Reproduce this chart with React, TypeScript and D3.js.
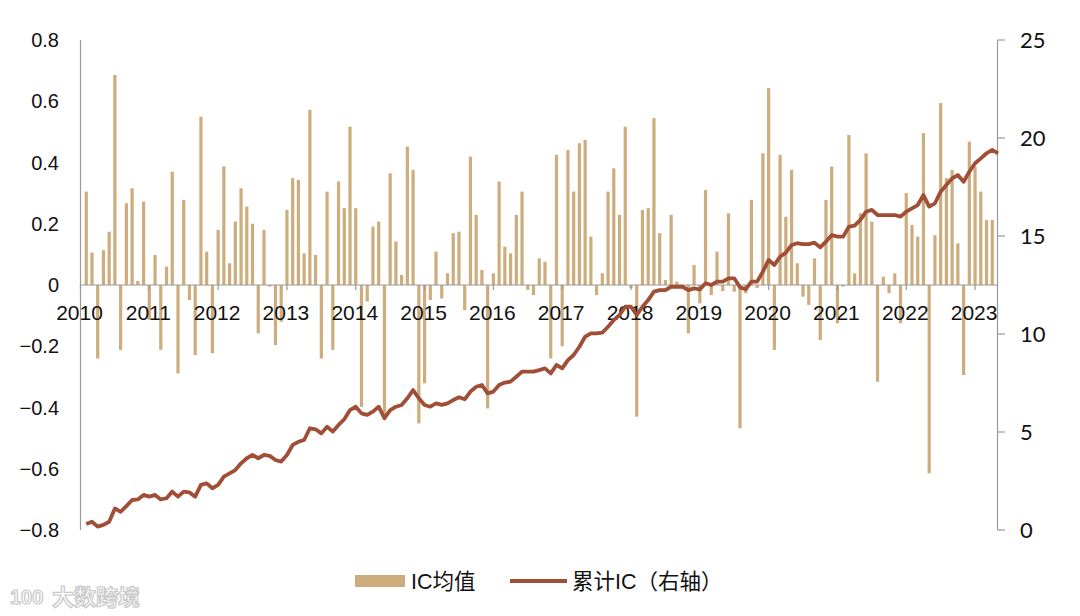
import React from "react";
import * as d3 from "d3";

// IC monthly mean, Feb 2010 .. Apr 2023 (month index 1..159, Jan 2010 = 0)
const icValues: number[] = [
  0.305, 0.106, -0.24, 0.114, 0.174, 0.686, -0.212, 0.267, 0.316, 0.013, 0.272,
  -0.114, 0.098, -0.212, 0.06, 0.37, -0.289, 0.278, -0.049, -0.229, 0.55, 0.109, -0.223,
  0.18, 0.387, 0.071, 0.207, 0.316, 0.256, 0.2, -0.158, 0.18, -0.005, -0.196, -0.12,
  0.245, 0.349, 0.343, 0.103, 0.572, 0.098, -0.24, 0.305, -0.212, 0.338, 0.251, 0.517,
  0.251, -0.398, -0.054, 0.191, 0.207, -0.441, 0.365, 0.142, 0.033, 0.452, 0.376, -0.452,
  -0.321, -0.049, 0.109, -0.044, 0.038, 0.169, 0.174, -0.082, 0.419, 0.229, 0.049, -0.403,
  0.038, 0.338, 0.125, 0.103, 0.229, 0.305, -0.016, -0.033, 0.087, 0.076, -0.24, 0.425,
  -0.2, 0.441, 0.305, 0.463, 0.474, 0.158, -0.033, 0.038, 0.305, 0.381, 0.229, 0.517,
  -0.01, -0.43, 0.245, 0.251, 0.545, 0.169, 0.016, 0.229, 0.011, -0.01, -0.158, 0.065,
  -0.06, 0.31, -0.033, 0.109, -0.02, 0.234, -0.022, -0.468, -0.027, 0.278, -0.01, 0.43,
  0.643, -0.212, 0.425, 0.223, 0.376, 0.071, -0.038, -0.065, 0.087, -0.18, 0.278, 0.387,
  -0.125, -0.005, 0.49, 0.038, 0.234, 0.43, 0.207, -0.316, 0.027, -0.027, 0.038, -0.125,
  0.3, 0.196, 0.158, 0.496, -0.615, 0.163, 0.594, 0.349, 0.376, 0.136, -0.294, 0.468,
  0.387, 0.305, 0.212, 0.212,
];

// Cumulative IC (right axis), Feb 2010 .. May 2023 (month index 1..160)
const cumIC: number[] = [
  0.31, 0.42, 0.17, 0.26, 0.42, 1.1, 0.93, 1.22, 1.53, 1.56, 1.79, 1.7, 1.79, 1.56, 1.62,
  1.96, 1.7, 1.96, 1.92, 1.7, 2.3, 2.38, 2.13, 2.3, 2.72, 2.89, 3.06, 3.4, 3.66, 3.83,
  3.66, 3.83, 3.78, 3.57, 3.49, 3.83, 4.34, 4.5, 4.59, 5.19,
  5.14, 4.93, 5.27, 5.02, 5.36, 5.65, 6.12, 6.29, 5.95, 5.87, 6.04, 6.29, 5.7, 6.12, 6.29,
  6.38, 6.72, 7.14, 6.72, 6.38, 6.29, 6.46, 6.38, 6.46, 6.63, 6.77, 6.67, 7.06, 7.31, 7.4,
  6.97, 7.06, 7.4, 7.52, 7.57, 7.82, 8.08, 8.08, 8.08, 8.16, 8.25,
  7.99, 8.42, 8.25, 8.67, 8.93, 9.35, 9.86, 10.03, 10.03, 10.07, 10.37, 10.71, 10.97,
  11.39, 11.39, 10.97, 11.39, 11.73, 12.16, 12.24, 12.24, 12.41, 12.41, 12.41, 12.24,
  12.33, 12.27, 12.59, 12.5, 12.67, 12.67, 12.84, 12.84, 12.38, 12.28, 12.67, 12.67,
  13.18, 13.78, 13.52, 13.95, 14.15,
  14.54, 14.63, 14.59, 14.59, 14.66, 14.42, 14.71, 15.05, 14.97, 14.97, 15.48, 15.53,
  15.82, 16.24, 16.33, 16.07, 16.07, 16.07, 16.07, 15.99, 16.24, 16.41, 16.58, 17.09,
  16.5, 16.67, 17.26, 17.6, 17.94, 18.11, 17.77, 18.28, 18.71, 18.96, 19.22, 19.39, 19.22,
];

const yearLabels: string[] = [
  "2010", "2011", "2012", "2013", "2014", "2015", "2016",
  "2017", "2018", "2019", "2020", "2021", "2022", "2023",
];
const leftTicks: number[] = [0.8, 0.6, 0.4, 0.2, 0, -0.2, -0.4, -0.6, -0.8];
const rightTicks: number[] = [0, 5, 10, 15, 20, 25];
const legendLabels: string[] = ["IC均值", "累计IC（右轴）"];

const BAR = "#CDAD7D";
const LINE = "#A04E36";
const AXIS = "#9a9a9a";
const FONT = "'Liberation Sans', Arial, 'Noto Sans CJK SC', sans-serif";

export default function App() {
  const W = 1080, H = 616;
  const x = d3.scaleLinear().domain([0, 160]).range([80.5, 998]);
  const yL = d3.scaleLinear().domain([-0.8, 0.8]).range([530, 40]);
  const yR = d3.scaleLinear().domain([0, 25]).range([530, 40]);
  const barW = 3.2;

  const lineGen = d3
    .line<number>()
    .x((_, i) => x(i + 1))
    .y((d) => yR(d))
    .curve(d3.curveLinear);

  const y0 = yL(0);

  return (
    <div style={{ position: "absolute", left: 0, top: 0 }}>
      <svg width={W} height={H} style={{ display: "block", background: "#fff" }}>
        {/* bars */}
        <g>
          {icValues.map((v, i) => {
            const cx = x(i + 1);
            const top = Math.min(yL(v), y0);
            const h = Math.abs(yL(v) - y0);
            return <rect key={i} x={cx - barW / 2} y={top} width={barW} height={h} fill={BAR} />;
          })}
        </g>

        {/* left axis */}
        <line x1={80.5} x2={80.5} y1={yL(0.8)} y2={yL(-0.8)} stroke={AXIS} strokeWidth={1.2} />
        {leftTicks.map((t) => (
          <text
            key={t}
            x={59}
            y={yL(t)}
            dy="0.35em"
            textAnchor="end"
            fontFamily={FONT}
            fontSize={20}
            fill="#111"
          >
            {t === 0 ? "0" : d3.format(".1f")(t)}
          </text>
        ))}

        {/* right axis */}
        <line x1={997.5} x2={997.5} y1={yR(25)} y2={yR(0)} stroke={AXIS} strokeWidth={1.2} />
        {rightTicks.map((t) => (
          <g key={t}>
            <line x1={997.5} x2={1005} y1={yR(t)} y2={yR(t)} stroke={AXIS} strokeWidth={1.2} />
            <text
              x={1020}
              y={yR(t)}
              dy="0.36em"
              fontFamily="Lato, 'Open Sans', sans-serif"
              fontSize={22}
              fill="#111"
            >
              {t}
            </text>
          </g>
        ))}

        {/* x axis at zero */}
        <line x1={80.5} x2={998} y1={y0} y2={y0} stroke={AXIS} strokeWidth={1.2} />
        {yearLabels.map((lab, k) => {
          const xx = x(k * 12);
          return (
            <g key={lab}>
              <line x1={xx} x2={xx} y1={y0} y2={y0 + 5} stroke={AXIS} strokeWidth={1.2} />
              <text
                x={xx - 1}
                y={y0 + 35}
                textAnchor="middle"
                fontFamily={FONT}
                fontSize={21}
                fill="#111"
              >
                {lab}
              </text>
            </g>
          );
        })}

        {/* cumulative line */}
        <path
          d={lineGen(cumIC) || ""}
          fill="none"
          stroke={LINE}
          strokeWidth={3.8}
          strokeLinejoin="round"
        />

        {/* legend */}
        <rect x={355} y={575} width={50} height={12} fill={BAR} />
        <text x={411} y={589} fontFamily={FONT} fontSize={21.5} fill="#111">
          {legendLabels[0]}
        </text>
        <line x1={510} x2={567} y1={581} y2={581} stroke={LINE} strokeWidth={4} />
        <text x={572} y={589} fontFamily={FONT} fontSize={21.5} fill="#111">
          {legendLabels[1]}
        </text>

        {/* watermark */}
        <g fill="#fff" stroke="#c8c8c8" strokeWidth={1.2}>
          <text x={10} y={604} fontFamily={FONT} fontSize={20} fontWeight={700}>
            100
          </text>
          <text x={52} y={605} fontFamily="'Noto Sans CJK SC', sans-serif" fontSize={22} fontWeight={700}>
            大数跨境
          </text>
        </g>
      </svg>
    </div>
  );
}
